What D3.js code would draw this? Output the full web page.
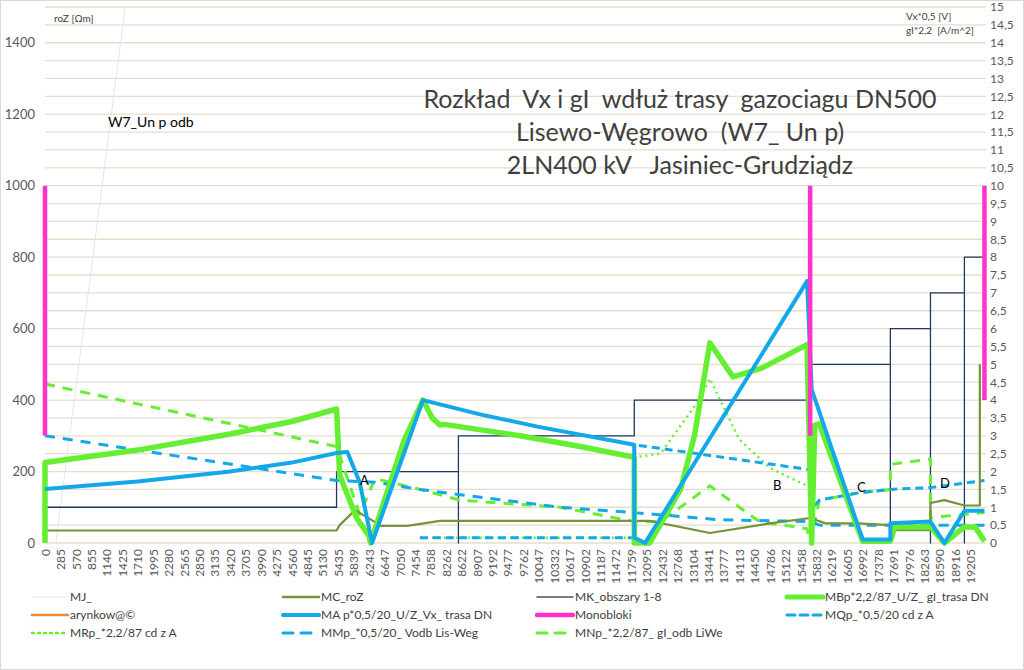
<!DOCTYPE html>
<html>
<head>
<meta charset="utf-8">
<script src="https://cdn.jsdelivr.net/npm/d3@7"></script>
<style>
body { margin: 0; background: #fff; font-family: Lato, "Open Sans", sans-serif; }
text { white-space: pre; }
</style>
</head>
<body>
<svg id="chart" width="1024" height="670"></svg>
<script>
// x-axis categories (distance labels)
var xLabels = [0,285,570,855,1140,1425,1710,1995,2280,2565,2850,3135,3420,3705,3990,4275,4560,4845,5130,
	5435,5839,6243,6647,7050,7454,7858,8262,8622,8907,9192,9477,9762,10047,10332,10617,10902,11187,11472,
	11759,12095,12432,12768,13104,13441,13777,14113,14450,14786,15122,15458,15832,16219,16605,16992,17378,
	17691,17976,18263,18590,18916,19205];

// series: [category position, value on right axis (left axis = value * 100)]
var mj = [[0.7,0],[5.2,15]];
var mcRoz = [[0,0.35],[18.9,0.35],[19.1,0.5],[20.1,0.92],[21.8,0.48],[23.5,0.48],[25.6,0.62],[39.2,0.62],
	[43.1,0.28],[47,0.55],[49.6,0.7],[50.6,0.55],[52.7,0.55],[54.8,0.5],[54.8,0.36],[57.4,0.36],[57.4,1.12],
	[58.3,1.2],[59.6,1.05],[60.6,1.05],[60.6,5]];
var mkObszary = [[0,0],[0,1],[18.9,1],[18.9,2],[26.8,2],[26.8,0],[26.8,3],[38.2,3],[38.2,4],[49.6,4],[49.6,5],
	[54.8,5],[54.8,0],[54.8,6],[57.4,6],[57.4,0],[57.4,7],[59.6,7],[59.6,0],[59.6,8],[60.8,8]];
var mbGl = [[0,0],[0,2.25],[6,2.6],[12,3.05],[16,3.4],[18.9,3.75],[19.1,1.9],[20.2,0.7],[21,0.2],[21.1,0],[23.3,2.9],
	[24.5,4],[25.1,3.5],[25.6,3.3],[25.9,3.32],[30.8,3.0],[34.7,2.7],[38.2,2.4],[38.2,0],[39.2,0],[41.2,1.5],
	[42.1,3],[43.1,5.6],[44.6,4.65],[46.5,4.9],[49.4,5.55],[49.7,0],[49.9,3.3],[50.2,3.33],[53,0.05],[54.8,0.05],
	[55.1,0.45],[57.4,0.45],[58.3,0],[59.6,0.45],[60.3,0.45],[60.9,0.05]];
var maVx = [[0,1.51],[6,1.72],[12,2.0],[16,2.25],[18.9,2.52],[19.6,2.55],[20.4,1.7],[21.2,0],[24.5,4],[28.2,3.6],
	[32,3.25],[38.2,2.75],[38.2,0.15],[38.9,0],[49.4,7.33],[49.7,4.3],[53,0.1],[54.8,0.1],[54.8,0.55],
	[57.4,0.6],[58.3,0],[59.6,0.9],[60.9,0.9]];
var monobloki = [[[0,3],[0,10]],[[49.6,3],[49.6,10]],[[60.9,4],[60.9,10]]];
var mqCdA = [[24.3,0.15],[38.2,0.15],[38.2,2.75],[49.6,2.05],[49.6,0.9],[50.2,1.2],[52.7,1.4],[54.8,1.5],
	[57.4,1.55],[60.9,1.75]];
var mrCdA = [[24.3,0.15],[38.2,0.15],[38.2,2.4],[39.9,2.5],[42.4,4.0],[43.1,4.6],[45,2.9],[47,2.1],[49.4,1.6]];
var mmVodb = [[0,3.0],[18.9,1.75],[21.4,1.7],[24.3,1.5],[26.9,1.35],[33.4,1.0],[38.2,0.85],[43.7,0.65],
	[49.6,0.6],[50.2,0.5],[60.9,0.5]];
var mnOdb = [[0,4.45],[18.9,2.7],[20.4,0.8],[21.4,1.8],[24.3,1.5],[26.9,1.2],[33.4,1.0],[38.2,0.6],[39.9,0.6],
	[43.1,1.6],[46.3,0.6],[49.4,0.4],[49.6,0],[50.2,1.2],[52.7,1.4],[54.8,1.5],[54.8,2.2],[57.4,2.35],[57.4,0.7],
	[58.3,0.75],[60.9,0.85]];
var leftTicks = d3.range(0, 1401, 200);
var rightTicks = d3.range(0, 15.01, 0.5);

var svg = d3.select('#chart');
var margin = { top: 7, left: 45, bottom: 543, right: 986 };
var x = d3.scaleLinear().domain([0, 61]).range([margin.left, margin.right]);
var yR = d3.scaleLinear().domain([0, 15]).range([margin.bottom, margin.top]);
var yL = d3.scaleLinear().domain([0, 1500]).range([margin.bottom, margin.top]);

svg.append('rect').attr('x', 0.5).attr('y', 0.5).attr('width', 1023).attr('height', 669)
	.attr('fill', 'none').attr('stroke', '#d9d9d9');

// gridlines
svg.append('g').selectAll('line').data(rightTicks).enter().append('line')
	.attr('x1', margin.left).attr('x2', margin.right)
	.attr('y1', function(d) { return yR(d); }).attr('y2', function(d) { return yR(d); })
	.attr('stroke', '#e3dfcc').attr('stroke-width', 1.3);

// axes
var leftAxis = svg.append('g').attr('transform', 'translate(' + margin.left + ',0)')
	.call(d3.axisLeft(yL).tickValues(leftTicks).tickSize(0).tickPadding(10).tickFormat(d3.format('d')));
var rightAxis = svg.append('g').attr('transform', 'translate(' + margin.right + ',0)')
	.call(d3.axisRight(yR).tickValues(rightTicks).tickSize(0).tickPadding(4)
		.tickFormat(function(d) { return String(d).replace('.', ','); }));
var bottomAxis = svg.append('g').attr('transform', 'translate(0,' + margin.bottom + ')')
	.call(d3.axisBottom(x).tickValues(d3.range(xLabels.length)).tickSize(0)
		.tickFormat(function(d) { return xLabels[d]; }));
bottomAxis.selectAll('text').attr('transform', 'rotate(-90)').attr('x', -6).attr('y', 0)
	.attr('dy', '0.35em').style('text-anchor', 'end');
[leftAxis, rightAxis, bottomAxis].forEach(function(a) {
	a.select('.domain').remove();
	a.selectAll('text').attr('fill', '#595959').style('font-family', 'Lato, sans-serif').style('font-size', '12px');
});
leftAxis.selectAll('text').style('font-size', '13px');

var line = d3.line().x(function(d) { return x(d[0]); }).y(function(d) { return yR(d[1]); });

function draw(data, color, width, dash) {
	svg.append('path').datum(data).attr('d', line).attr('fill', 'none')
		.attr('stroke', color).attr('stroke-width', width)
		.attr('stroke-dasharray', dash || null).attr('stroke-linejoin', 'round');
}

draw(mj, '#e6e6e6', 1);
draw(mkObszary, '#1f3864', 1.3);
draw(mnOdb, '#66ee33', 3, '10,8');
draw(mmVodb, '#13a8e8', 3, '10,8');
draw(mrCdA, '#66ee33', 2.5, '2,4');
draw(mqCdA, '#13a8e8', 3, '8,5');
draw(mcRoz, '#76923c', 2.2);
draw(mbGl, '#66ee33', 5.5);
draw(maVx, '#13a8e8', 4);
monobloki.forEach(function(m) { draw(m, '#ff33cc', 4.5); });

// texts
var title = ['Rozkład  Vx i gI  wdłuż trasy  gazociagu DN500', 'Lisewo-Węgrowo  (W7_ Un p)', '2LN400 kV   Jasiniec-Grudziądz'];
svg.append('g').selectAll('text').data(title).enter().append('text')
	.attr('x', 680).attr('y', function(d, i) { return 108 + i * 33; })
	.attr('text-anchor', 'middle').attr('fill', '#404040').style('font-size', '25px').text(function(d) { return d; });
svg.append('text').attr('x', 108).attr('y', 127).style('font-size', '14px').text('W7_Un p odb');
svg.append('text').attr('x', 54).attr('y', 22).style('font-size', '10px').attr('fill', '#404040').text('roZ [Ωm]');
svg.append('text').attr('x', 906).attr('y', 20).style('font-size', '10px').attr('fill', '#404040').text('Vx*0,5 [V]');
svg.append('text').attr('x', 906).attr('y', 34).style('font-size', '10px').attr('fill', '#404040').text('gI*2,2  [A/m^2]');
var marks = [['A', 360, 485], ['B', 773, 490], ['C', 857, 492], ['D', 940, 488]];
svg.append('g').selectAll('text').data(marks).enter().append('text')
	.attr('x', function(d) { return d[1]; }).attr('y', function(d) { return d[2]; })
	.style('font-size', '13px').text(function(d) { return d[0]; });

// legend
var legendItems = [
	['MJ_', '#e6e6e6', 1, null, 32, 597],
	['MC_roZ', '#76923c', 2.5, null, 283, 597],
	['MK_obszary 1-8', '#44546a', 1.5, null, 537, 597],
	['MBp*2,2/87_U/Z_ gI_trasa DN', '#66ee33', 5, null, 787, 597],
	['arynkow@©', '#f08a3c', 2.5, null, 32, 615],
	['MA p*0,5/20_U/Z_Vx_ trasa DN', '#13a8e8', 4, null, 283, 615],
	['Monobloki', '#ff33cc', 4.5, null, 537, 615],
	['MQp_*0,5/20 cd z A', '#13a8e8', 3, '8,5', 787, 615],
	['MRp_*2,2/87 cd z A', '#66ee33', 2.5, '2,4', 32, 633],
	['MMp_*0,5/20_ Vodb Lis-Weg', '#13a8e8', 3, '10,8', 283, 633],
	['MNp_*2,2/87_ gI_odb LiWe', '#66ee33', 3, '10,8', 537, 633]
];
var legend = svg.append('g').selectAll('g').data(legendItems).enter().append('g');
legend.append('line').attr('x1', function(d) { return d[4]; }).attr('x2', function(d) { return d[4] + 36; })
	.attr('y1', function(d) { return d[5]; }).attr('y2', function(d) { return d[5]; })
	.attr('stroke', function(d) { return d[1]; }).attr('stroke-width', function(d) { return d[2]; })
	.attr('stroke-dasharray', function(d) { return d[3]; }).attr('stroke-linecap', 'round');
legend.append('text').attr('x', function(d) { return d[4] + 38; }).attr('y', function(d) { return d[5]; })
	.attr('dy', '0.35em').attr('fill', '#404040').style('font-size', '12px').text(function(d) { return d[0]; });
</script>
</body>
</html>
